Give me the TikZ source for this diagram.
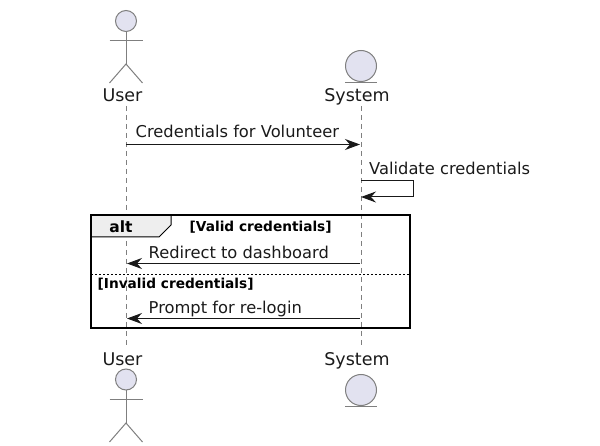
\documentclass[tikz,border=0pt]{standalone}
\usepackage{fontspec}
\setmainfont{DejaVu Sans}
\usetikzlibrary{arrows.meta}
\definecolor{partfill}{HTML}{E2E2F0}
\definecolor{partline}{HTML}{7F7F7F}
\definecolor{tabfill}{HTML}{EEEEEE}
\definecolor{msgtext}{HTML}{1A1A1A}
\tikzset{
    lifeline/.style={draw=partline, dashed, dash pattern=on 5pt off 4pt, line width=0.8pt},
    figure/.style={draw=partline, line width=1pt},
    head/.style={circle, draw=partline, fill=partfill, line width=1pt, inner sep=0pt},
    partname/.style={font=\fontsize{17.5}{20}\selectfont, text=msgtext, inner sep=0pt, anchor=base},
    msgname/.style={font=\fontsize{16.3}{19}\selectfont, text=msgtext, inner sep=0pt, anchor=base west},
    guard/.style={font=\fontsize{13.7}{16}\selectfont\bfseries, text=black, inner sep=0pt, anchor=base west},
    msg/.style={-{Stealth[length=15pt, width=11pt, inset=5pt]}, line width=1pt, draw=black!90},
}
\begin{document}
\begin{tikzpicture}[x=1pt, y=-1pt]
    \useasboundingbox (0,0) rectangle (600,446);

    % lifelines
    \coordinate (usertop) at (126,106);
    \coordinate (userbot) at (126,346);
    \coordinate (systop) at (361,106);
    \coordinate (sysbot) at (361,346);
    \draw[lifeline] (usertop) -- (userbot);
    \draw[lifeline] (systop) -- (sysbot);

    % top participants
    \node[head, minimum size=21pt] (userhead) at (126,21) {};
    \coordinate (userhip) at (126,64);
    \draw[figure] (userhead) -- (userhip);
    \draw[figure] (109.5,40.5) -- (142.5,40.5);
    \draw[figure] (109.5,83) -- (userhip) -- (142.5,83);
    \node[partname] (user) at (122.5,101.5) {User};
    \node[head, minimum size=31pt] (syshead) at (361,66) {};
    \draw[figure] (345,82.5) -- (376.5,82.5);
    \node[partname] (sys) at (357,101.5) {System};

    % bottom participants
    \node[partname] (userb) at (122.5,365.5) {User};
    \node[head, minimum size=21pt] (userheadb) at (126,379.5) {};
    \coordinate (userhipb) at (126,423);
    \draw[figure] (userheadb) -- (userhipb);
    \draw[figure] (109.5,399) -- (142.5,399);
    \draw[figure] (109.5,442) -- (userhipb) -- (142.5,442);
    \node[partname] (sysb) at (357,365.5) {System};
    \node[head, minimum size=31pt] (sysheadb) at (361,390) {};
    \draw[figure] (345,406.5) -- (376.5,406.5);

    % alt frame
    \draw[fill=tabfill, line width=1pt] (91,215.5) -- (171,215.5) -- (171,225) -- (159,237) -- (91,237) -- cycle;
    \draw[line width=2pt] (91,215.5) rectangle (410,328);
    \node[font=\fontsize{15.5}{19}\selectfont\bfseries, inner sep=0pt] (alt) at (121,227) {alt};
    \node[guard] (valid) at (189.5,232) {[Valid credentials]};
    \draw[dashed, dash pattern=on 2pt off 2pt, line width=0.8pt] (91,274.5) -- (410,274.5);
    \node[guard] (invalid) at (97.5,288.5) {[Invalid credentials]};

    % messages
    \coordinate (m1a) at (126,144.5);
    \coordinate (m1b) at (360,144.5);
    \draw[msg] (m1a) -- (m1b);
    \node[msgname] (m1) at (135.5,138) {Credentials for Volunteer};

    \coordinate (m2a) at (361,181);
    \coordinate (m2b) at (361,197);
    \draw[msg] (m2a) -- (413.5,181) -- (413.5,197) -- (m2b);
    \node[msgname] (m2) at (369,174.5) {Validate credentials};

    \coordinate (m3a) at (360,263.5);
    \coordinate (m3b) at (127,263.5);
    \draw[msg] (m3a) -- (m3b);
    \node[msgname] (m3) at (148.5,258.5) {Redirect to dashboard};

    \coordinate (m4a) at (360,318.5);
    \coordinate (m4b) at (127,318.5);
    \draw[msg] (m4a) -- (m4b);
    \node[msgname] (m4) at (148.5,313.5) {Prompt for re-login};
\end{tikzpicture}
\end{document}
